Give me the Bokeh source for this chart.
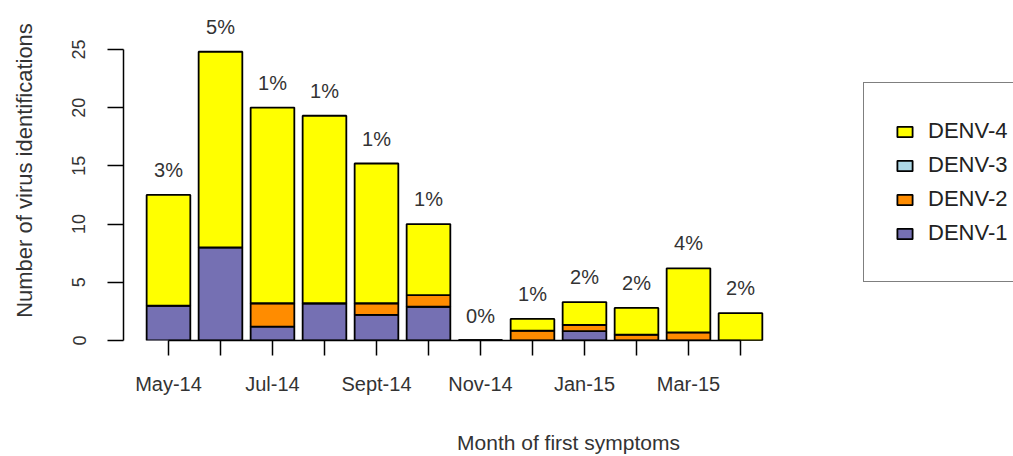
from bokeh.plotting import figure
from bokeh.models import Range1d, FixedTicker, Legend, LegendItem, ColumnDataSource
from bokeh.core.properties import value
from bokeh.embed import file_html
from bokeh.resources import INLINE

# ---- data ----
months = ["May-14", "Jun-14", "Jul-14", "Aug-14", "Sept-14", "Oct-14",
          "Nov-14", "Dec-14", "Jan-15", "Feb-15", "Mar-15", "Apr-15"]
shown_labels = ["May-14", "Jul-14", "Sept-14", "Nov-14", "Jan-15", "Mar-15"]
denv1 = [3.0, 8.0, 1.2, 3.2, 2.2, 2.9, 0, 0, 0.8, 0, 0, 0]
denv2 = [0, 0, 2.0, 0, 1.0, 1.0, 0, 0.85, 0.55, 0.5, 0.7, 0]
denv3 = [0, 0, 0, 0, 0, 0, 0, 0, 0, 0, 0, 0]
denv4 = [9.5, 16.8, 16.8, 16.1, 12.0, 6.1, 0, 1.0, 1.95, 2.3, 5.5, 2.35]
pct_labels = ["3%", "5%", "1%", "1%", "1%", "1%", "0%", "1%", "2%", "2%", "4%", "2%"]
y_ticks = [0, 5, 10, 15, 20, 25]
series = ["DENV-1", "DENV-2", "DENV-3", "DENV-4"]
colors = ["#7570B3", "#FF8C00", "#ADD8E6", "#FFFF00"]

FONT = "Liberation Sans"

x = list(range(len(months)))
totals = [a + b + c + d for a, b, c, d in zip(denv1, denv2, denv3, denv4)]
src = ColumnDataSource(dict(x=x, **{"DENV-1": denv1, "DENV-2": denv2,
                                   "DENV-3": denv3, "DENV-4": denv4},
                            total=totals, pct=pct_labels))

p = figure(width=1013, height=456, output_backend="svg", toolbar_location=None,
           x_range=Range1d(-0.865, 16.25), y_range=Range1d(0, 29.2),
           min_border_left=123, min_border_right=0, min_border_top=0,
           min_border_bottom=116)
p.outline_line_color = None
p.xgrid.grid_line_color = None
p.ygrid.grid_line_color = None
p.background_fill_color = "white"

renderers = p.vbar_stack(series, x="x", width=0.84, source=src, color=colors,
                         line_color="black", line_width=1.8)

p.text(x="x", y="total", text="pct", source=src, y_offset=-25,
       text_align="center", text_baseline="middle",
       text_font=value(FONT), text_font_size="20px", text_color="#333333")

# x axis
xa = p.xaxis[0]
xa.ticker = FixedTicker(ticks=x)
xa.major_label_overrides = {i: (m if m in shown_labels else "") for i, m in zip(x, months)}
xa.bounds = (0, len(months) - 1)
xa.axis_label = "Month of first symptoms"
xa.axis_label_text_font = FONT
xa.axis_label_text_font_style = "normal"
xa.axis_label_text_font_size = "21px"
xa.axis_label_text_color = "#333333"
xa.axis_label_standoff = 33
xa.major_label_text_font = FONT
xa.major_label_text_font_size = "20px"
xa.major_label_text_color = "#333333"
xa.major_label_standoff = 17
xa.major_tick_out = 15
xa.major_tick_in = 0
xa.minor_tick_line_color = None
xa.axis_line_width = 1.5
xa.major_tick_line_width = 1.5

# y axis
ya = p.yaxis[0]
ya.ticker = FixedTicker(ticks=y_ticks)
ya.bounds = (0, 25)
ya.axis_label = "Number of virus identifications"
ya.axis_label_text_font = FONT
ya.axis_label_text_font_style = "normal"
ya.axis_label_text_font_size = "22px"
ya.axis_label_text_color = "#333333"
ya.axis_label_standoff = 33
ya.major_label_text_font = FONT
ya.major_label_text_font_size = "18px"
ya.major_label_text_color = "#333333"
ya.major_label_orientation = "vertical"
ya.major_label_standoff = 22
ya.major_tick_out = 16
ya.major_tick_in = 0
ya.minor_tick_line_color = None
ya.axis_line_width = 1.5
ya.major_tick_line_width = 1.5

items = [LegendItem(label=s, renderers=[r]) for s, r in zip(series, renderers)][::-1]
legend = Legend(items=items, location=(740, 58), orientation="vertical",
                glyph_width=19, glyph_height=13, label_height=34, spacing=0,
                padding=31, label_standoff=14, label_width=160,
                label_text_font=FONT, label_text_font_size="22px",
                label_text_color="#222222",
                border_line_color="black", border_line_width=1.5,
                background_fill_color="white", background_fill_alpha=1.0,
                margin=0)
p.add_layout(legend, "center")

open("out.html", "w").write(file_html(p, INLINE))
